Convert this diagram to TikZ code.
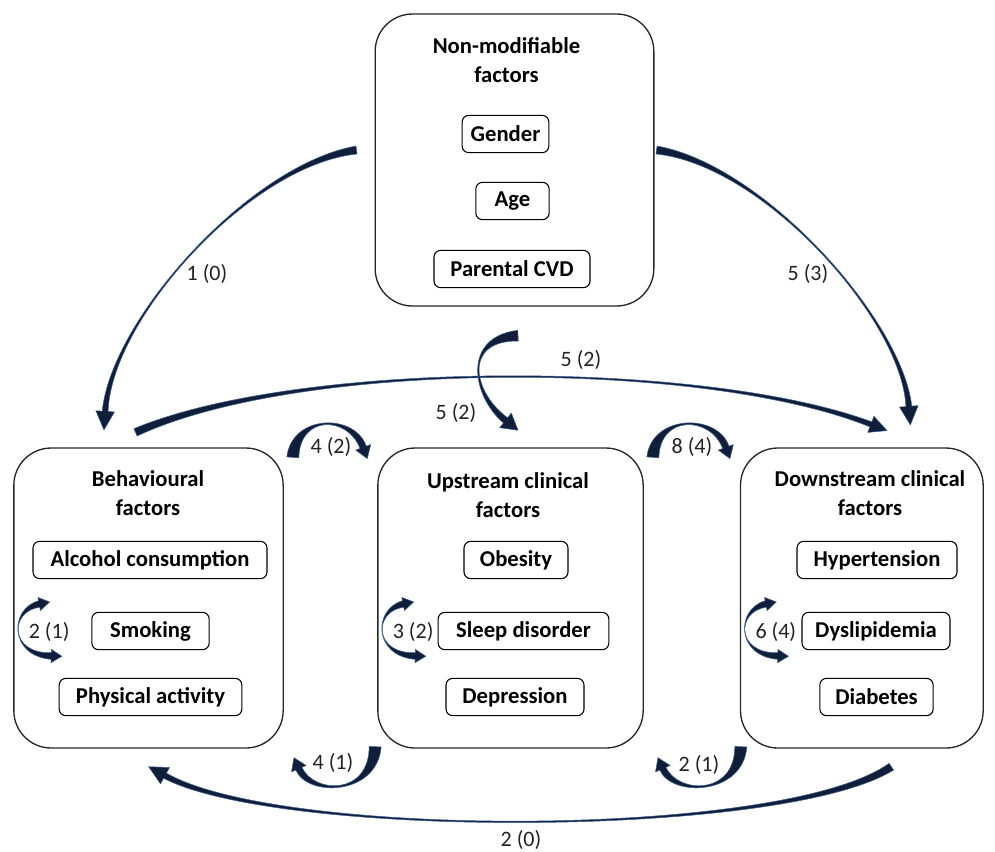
\documentclass[tikz,border=0pt]{standalone}
\usepackage{fontspec}
\setmainfont{Carlito}
\usetikzlibrary{positioning,calc}
\definecolor{arrownavy}{RGB}{16,30,58}
\definecolor{arrowrim}{RGB}{62,96,148}
\definecolor{labelgray}{RGB}{35,35,35}

\newcommand{\boxfont}{\fontsize{17}{21.75}\selectfont\bfseries}
\newcommand{\countfont}{\fontsize{16.5}{20}\selectfont}

% tapered curved arrow: from, handle at from, handle at to, to
\newif\ifcvboth
\pgfkeys{/curv/.cd,
  tail/.store in=\cvtail, mid/.store in=\cvmid, end/.store in=\cvend,
  head/.store in=\cvhead, len/.store in=\cvlen, both/.code={\cvbothtrue},
  tail=3pt, mid=0pt, end=2.2pt, head=7pt, len=13pt}
\newcommand{\curvarrow}[5][]{%
  \begingroup
  \pgfkeys{/curv/.cd,#1}%
  \coordinate (cvA) at (#2);
  \coordinate (cvP) at ($(cvA)+(#3)$);
  \coordinate (cvB) at (#5);
  \coordinate (cvQ) at ($(cvB)+(#4)$);
  \ifcvboth
  \filldraw[curvefill] ($(cvA)!\cvtail!90:(cvP)$)
    .. controls ($(cvP)!\cvmid!-90:(cvA)$) and ($(cvQ)!\cvmid!90:(cvB)$) .. ($(cvB)!\cvend!-90:(cvQ)$)
    -- ($(cvB)!\cvhead!-90:(cvQ)$) -- ($(cvB)!\cvlen!180:(cvQ)$) -- ($(cvB)!\cvhead!90:(cvQ)$)
    -- ($(cvB)!\cvend!90:(cvQ)$)
    .. controls ($(cvQ)!\cvmid!-90:(cvB)$) and ($(cvP)!\cvmid!90:(cvA)$) .. ($(cvA)!\cvtail!-90:(cvP)$)
    -- ($(cvA)!\cvhead!-90:(cvP)$) -- ($(cvA)!\cvlen!180:(cvP)$) -- ($(cvA)!\cvhead!90:(cvP)$) -- cycle;
  \else
  \filldraw[curvefill] ($(cvA)!\cvtail!90:(cvP)$)
    .. controls ($(cvP)!\cvmid!-90:(cvA)$) and ($(cvQ)!\cvmid!90:(cvB)$) .. ($(cvB)!\cvend!-90:(cvQ)$)
    -- ($(cvB)!\cvhead!-90:(cvQ)$) -- ($(cvB)!\cvlen!180:(cvQ)$) -- ($(cvB)!\cvhead!90:(cvQ)$)
    -- ($(cvB)!\cvend!90:(cvQ)$)
    .. controls ($(cvQ)!\cvmid!-90:(cvB)$) and ($(cvP)!\cvmid!90:(cvA)$) .. ($(cvA)!\cvtail!-90:(cvP)$) -- cycle;
  \fi
  \endgroup}

\tikzset{
  bigbox/.style={draw=black!85, line width=1pt, rounded corners=28pt, minimum height=225pt},
  itembox/.style={draw, line width=0.8pt, rounded corners=5pt, font=\boxfont, minimum height=28pt, inner sep=0pt},
  title/.style={font=\boxfont, align=center, inner sep=0pt},
  count/.style={font=\countfont, text=labelgray, inner sep=0pt},
  curvefill/.style={fill=arrownavy, draw=arrowrim, line width=0.4pt, line join=round}
}

\begin{document}
\begin{tikzpicture}[x=0.75pt, y=-0.75pt]
    \useasboundingbox (0,0) rectangle (995,851);

    % Factor groups
    \node[bigbox, minimum width=209pt, minimum height=219pt] (nonmod) at (514.5,160) {};
    \node[bigbox, minimum width=202pt] (behav) at (148.5,598) {};
    \node[bigbox, minimum width=199pt, right=70pt of behav] (upstream) {};
    \node[bigbox, minimum width=182pt, right=72pt of upstream] (downstream) {};

    % Titles
    \node[title] (nonmodtitle) at (506.5,60) {Non-modifiable\\factors};
    \node[title] (behavtitle) at (148,493) {Behavioural\\factors};
    \node[title] (upstreamtitle) at (508,495) {Upstream clinical\\factors};
    \node[title] (downstreamtitle) at (870,493) {Downstream clinical\\factors};

    % Items
    \node[itembox, minimum width=65pt] (gender) at (505.5,134) {Gender};
    \node[itembox, minimum width=55pt] (age) at (512.5,201) {Age};
    \node[itembox, minimum width=117pt] (parental) at (512,269) {Parental CVD};
    \node[itembox, minimum width=175.5pt] (alcohol) at (150,560) {Alcohol consumption};
    \node[itembox, minimum width=88pt] (smoking) at (150.5,631) {Smoking};
    \node[itembox, minimum width=137pt] (physical) at (150.5,697) {Physical activity};
    \node[itembox, minimum width=78pt] (obesity) at (516,560) {Obesity};
    \node[itembox, minimum width=128pt] (sleep) at (523.5,631) {Sleep disorder};
    \node[itembox, minimum width=103.5pt] (depression) at (515,697) {Depression};
    \node[itembox, minimum width=120pt] (hypertension) at (877,560) {Hypertension};
    \node[itembox, minimum width=111pt] (dyslipidemia) at (876,631) {Dyslipidemia};
    \node[itembox, minimum width=85pt] (diabetes) at (876.5,697) {Diabetes};

    % Arrow ends
    \coordinate (nm-l) at ($(nonmod.west)+(-18,-10)$);
    \coordinate (nm-r) at ($(nonmod.east)+(2,-10)$);
    \coordinate (nm-b) at ($(nonmod.south)+(3.5,29)$);
    \coordinate (bh-top) at ($(behav.north west)+(92,-36)$);
    \coordinate (bh-tail) at ($(behav.north)+(-13,-15)$);
    \coordinate (bh-ne) at ($(behav.north east)+(9,10)$);
    \coordinate (bh-se) at ($(behav.south east)+(15,20)$);
    \coordinate (bh-s) at ($(behav.south)+(16.5,27)$);
    \coordinate (up-nw) at ($(upstream.north west)+(-14,0)$);
    \coordinate (up-n) at ($(upstream.north)+(-5,-27)$);
    \coordinate (up-ne) at ($(upstream.north east)+(9,10)$);
    \coordinate (up-sw) at ($(upstream.south west)+(-2,-2)$);
    \coordinate (up-se) at ($(upstream.south east)+(19,20)$);
    \coordinate (dn-top) at ($(downstream.north east)+(-75,-41)$);
    \coordinate (dn-nw) at ($(downstream.north west)+(131,-23)$);
    \coordinate (dn-in) at ($(downstream.north west)+(-14,0)$);
    \coordinate (dn-sw) at ($(downstream.south west)+(1,-2)$);
    \coordinate (dn-s) at ($(downstream.south)+(29.5,18)$);

    % Connectors
    \curvarrow[tail=3pt, end=2.2pt, head=7pt, len=14pt]{nm-l}{-107,15}{6,-92}{bh-top}
    \curvarrow[tail=3pt, end=2.2pt, head=7pt, len=14pt]{nm-r}{107,15}{-7,-87}{dn-top}
    \curvarrow[tail=3pt, end=2pt, head=6.5pt, len=13pt]{bh-tail}{165,-73}{-168,-65}{dn-nw}
    \curvarrow[tail=4pt, mid=1.2pt, end=2.5pt, head=7pt, len=12pt]{nm-b}{-56,3}{-33,-26}{up-n}
    \curvarrow[tail=4.5pt, mid=3pt, end=2.5pt, head=6pt, len=9pt]{bh-ne}{3,-43}{-12,-33}{up-nw}
    \curvarrow[tail=4.5pt, mid=3pt, end=2.5pt, head=6pt, len=9pt]{up-ne}{3,-43}{-12,-33}{dn-in}
    \curvarrow[tail=4.5pt, mid=3pt, end=2.5pt, head=6pt, len=9pt]{up-sw}{-2,49}{12,27}{bh-se}
    \curvarrow[tail=4.5pt, mid=3pt, end=2.5pt, head=6pt, len=9pt]{dn-sw}{-2,49}{12,27}{up-se}
    \curvarrow[tail=3pt, end=2.2pt, head=7pt, len=14pt]{dn-s}{-108,72}{115,63}{bh-s}

    % Loops inside groups
    \foreach \bx/\lab in {behav/2 (1), upstream/3 (2), downstream/6 (4)} {
        \coordinate (\bx-lt) at ($(\bx.west)+(26,6)$);
        \coordinate (\bx-lb) at ($(\bx.west)+(38,58)$);
        \curvarrow[both, tail=2.5pt, mid=0.6pt, end=2.5pt, head=5pt, len=8pt]{\bx-lt}{-30,6}{-42,-1}{\bx-lb}
        \node[count] (\bx-count) at ($(\bx.west)+(36,34)$) {\lab};
    }

    % Counts
    \node[count] (c-nb) at (207,274) {1 (0)};
    \node[count] (c-nd) at (808,274) {5 (3)};
    \node[count] (c-bd) at (581,360) {5 (2)};
    \node[count] (c-nu) at (456,413) {5 (2)};
    \node[count] (c-bu) at (331,447) {4 (2)};
    \node[count] (c-ud) at (692,447) {8 (4)};
    \node[count] (c-ub) at (333,763) {4 (1)};
    \node[count] (c-du) at (699,765) {2 (1)};
    \node[count] (c-db) at (521,840) {2 (0)};
\end{tikzpicture}
\end{document}
